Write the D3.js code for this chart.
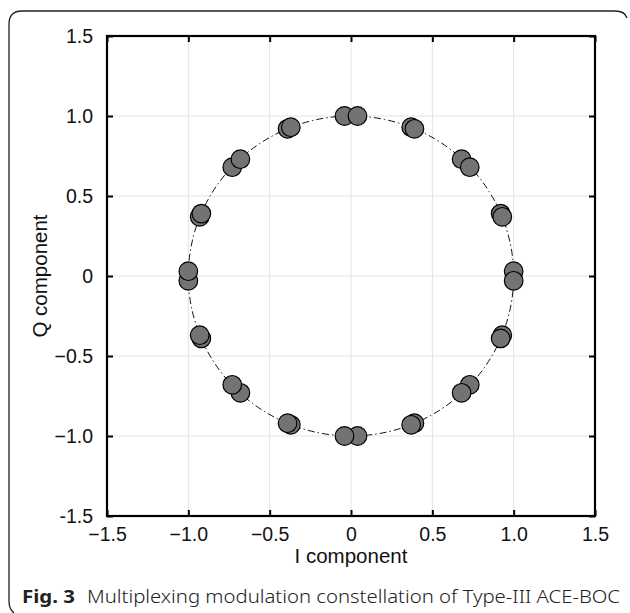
<!DOCTYPE html>
<html>
<head>
<meta charset="utf-8">
<script src="https://cdn.jsdelivr.net/npm/d3@7"></script>
<style>
  body { margin: 0; background: #fff; }
  svg { display: block; }
</style>
</head>
<body>
<svg id="chart" width="630" height="613"></svg>
<script>
// constellation points (I, Q)
var iVals = [-0.04, 0.04, 0.37, 0.39, 0.68, 0.73, 0.92, 0.93, 1.00, 1.00, 0.93, 0.92, 0.73, 0.68, 0.39, 0.37,
             0.04, -0.04, -0.37, -0.39, -0.68, -0.73, -0.92, -0.93, -1.00, -1.00, -0.93, -0.92, -0.73, -0.68, -0.39, -0.37];
var qVals = [1.00, 1.00, 0.93, 0.92, 0.73, 0.68, 0.39, 0.37, 0.03, -0.03, -0.37, -0.39, -0.68, -0.73, -0.92, -0.93,
             -1.00, -1.00, -0.93, -0.92, -0.73, -0.68, -0.39, -0.37, -0.03, 0.03, 0.37, 0.39, 0.68, 0.73, 0.92, 0.93];
var tickVals = [-1.5, -1.0, -0.5, 0, 0.5, 1.0, 1.5];
var xTickLabels = ["\u22121.5", "\u22121.0", "\u22120.5", "0", "0.5", "1.0", "1.5"];
var yTickLabels = ["-1.5", "\u22121.0", "\u22120.5", "0", "0.5", "1.0", "1.5"];
var refRadius = 1;

var svg = d3.select("#chart");
var margin = { left: 107, right: 35, top: 36, bottom: 97 };
var width = 630 - margin.left - margin.right,
    height = 613 - margin.top - margin.bottom;

// figure frame (open on right/bottom like the journal layout)
svg.append("path")
  .attr("d", "M627,18 Q625,11 615,11 L22,11 Q9,11 9,24 L9,601 Q9,609 14,613")
  .attr("fill", "none")
  .attr("stroke", "#222")
  .attr("stroke-width", 1.3);

var g = svg.append("g")
  .attr("transform", "translate(" + margin.left + "," + margin.top + ")");

var x = d3.scaleLinear().domain([-1.5, 1.5]).range([0, width]);
var y = d3.scaleLinear().domain([-1.5, 1.5]).range([height, 0]);

// grid
g.append("g").selectAll("line.gx")
  .data(tickVals.slice(1, -1)).enter().append("line")
  .attr("x1", function (d) { return x(d); })
  .attr("x2", function (d) { return x(d); })
  .attr("y1", 0).attr("y2", height)
  .attr("stroke", "#e3e3e3").attr("stroke-width", 1);
g.append("g").selectAll("line.gy")
  .data(tickVals.slice(1, -1)).enter().append("line")
  .attr("y1", function (d) { return y(d); })
  .attr("y2", function (d) { return y(d); })
  .attr("x1", 0).attr("x2", width)
  .attr("stroke", "#e3e3e3").attr("stroke-width", 1);

// axes with inward ticks
function styleAxis(sel) {
  sel.select(".domain").remove();
  sel.selectAll(".tick line").attr("stroke", "#000").attr("stroke-width", 2);
  sel.selectAll(".tick text")
    .attr("fill", "#111")
    .style("font-family", "'Liberation Sans', Arial, sans-serif")
    .style("font-size", "19.5px");
}

var xAxis = g.append("g")
  .attr("transform", "translate(0," + height + ")")
  .call(d3.axisBottom(x).tickValues(tickVals).tickSizeInner(-6).tickSizeOuter(0).tickPadding(11)
    .tickFormat(function (d, i) { return xTickLabels[i]; }));
styleAxis(xAxis);

var yAxis = g.append("g")
  .call(d3.axisLeft(y).tickValues(tickVals).tickSizeInner(-6).tickSizeOuter(0).tickPadding(14)
    .tickFormat(function (d, i) { return yTickLabels[i]; }));
styleAxis(yAxis);

var topAxis = g.append("g")
  .call(d3.axisTop(x).tickValues(tickVals).tickSizeInner(-6).tickSizeOuter(0).tickFormat(""));
styleAxis(topAxis);
var rightAxis = g.append("g")
  .attr("transform", "translate(" + width + ",0)")
  .call(d3.axisRight(y).tickValues(tickVals).tickSizeInner(-6).tickSizeOuter(0).tickFormat(""));
styleAxis(rightAxis);

// reference unit circle, dash-dot
g.append("ellipse")
  .attr("cx", x(0)).attr("cy", y(0))
  .attr("rx", x(refRadius) - x(0))
  .attr("ry", y(0) - y(refRadius))
  .attr("fill", "none")
  .attr("stroke", "#111")
  .attr("stroke-width", 1)
  .attr("stroke-dasharray", "7,3,1.5,3");

// points
var pts = iVals.map(function (v, i) { return { i: v, q: qVals[i] }; });
g.append("g").selectAll("circle")
  .data(pts).enter().append("circle")
  .attr("cx", function (d) { return x(d.i); })
  .attr("cy", function (d) { return y(d.q); })
  .attr("r", 9.3)
  .attr("fill", "#737373")
  .attr("stroke", "#000")
  .attr("stroke-width", 1.2);

// plot box
g.append("rect")
  .attr("width", width).attr("height", height)
  .attr("fill", "none").attr("stroke", "#000").attr("stroke-width", 2.2);

// axis titles
svg.append("text")
  .attr("x", margin.left + width / 2).attr("y", 563)
  .attr("text-anchor", "middle")
  .style("font-family", "'Liberation Sans', Arial, sans-serif")
  .style("font-size", "20.5px")
  .attr("fill", "#111")
  .text("I component");

svg.append("text")
  .attr("transform", "translate(47," + (margin.top + height / 2) + ") rotate(-90)")
  .attr("text-anchor", "middle")
  .style("font-family", "'Liberation Sans', Arial, sans-serif")
  .style("font-size", "20.5px")
  .attr("fill", "#111")
  .text("Q component");

// caption
var cap = svg.append("text")
  .attr("x", 22).attr("y", 603)
  .style("font-family", "'Noto Sans', 'Open Sans', sans-serif")
  .style("font-size", "18px")
  .attr("fill", "#222");
cap.append("tspan").style("font-weight", "bold")
  .attr("textLength", 53).attr("lengthAdjust", "spacingAndGlyphs")
  .text("Fig. 3");
cap.append("tspan").attr("x", 87)
  .attr("textLength", 533).attr("lengthAdjust", "spacingAndGlyphs")
  .style("font-weight", "300")
  .text("Multiplexing modulation constellation of Type-III ACE-BOC");
</script>
</body>
</html>
